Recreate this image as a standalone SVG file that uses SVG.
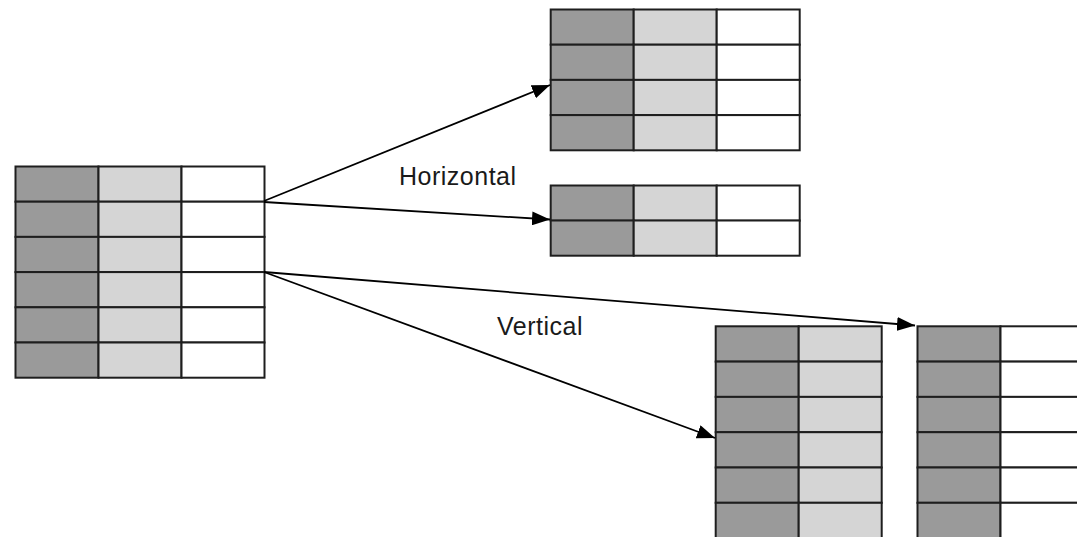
<svg xmlns="http://www.w3.org/2000/svg" width="1077" height="537" viewBox="0 0 1077 537">
<defs>
<style>
.d{fill:#9a9a9a;stroke:#1e1e1e;stroke-width:2}
.l{fill:#d5d5d5;stroke:#1e1e1e;stroke-width:2}
.w{fill:#ffffff;stroke:#1e1e1e;stroke-width:2}
.c{stroke:#000;stroke-width:1.8;fill:none;marker-end:url(#ah)}
.t{font-family:"Liberation Sans",Arial,sans-serif;font-size:25px;letter-spacing:0.5px;fill:#1a1a1a}
</style>
<marker id="ah" markerUnits="userSpaceOnUse" markerWidth="19" markerHeight="14" refX="18" refY="7" orient="auto">
<path d="M0,0 L18,7 L0,14 Z" fill="#000"/>
</marker>
<g id="row3">
<rect class="d" x="0" y="0" width="83" height="35.2"/>
<rect class="l" x="83" y="0" width="83" height="35.2"/>
<rect class="w" x="166" y="0" width="83" height="35.2"/>
</g>
<g id="row2a">
<rect class="d" x="0" y="0" width="83" height="35.3"/>
<rect class="l" x="83" y="0" width="83" height="35.3"/>
</g>
<g id="row2b">
<rect class="d" x="0" y="0" width="83" height="35.3"/>
<rect class="w" x="83" y="0" width="90" height="35.3"/>
</g>
</defs>
<rect width="1077" height="537" fill="#fff"/>
<g id="source">
<use href="#row3" x="15.5" y="166.5"/>
<use href="#row3" x="15.5" y="201.7"/>
<use href="#row3" x="15.5" y="236.9"/>
<use href="#row3" x="15.5" y="272.1"/>
<use href="#row3" x="15.5" y="307.3"/>
<use href="#row3" x="15.5" y="342.5"/>
</g>
<g id="horizontal-top">
<use href="#row3" x="550.7" y="9.5"/>
<use href="#row3" x="550.7" y="44.7"/>
<use href="#row3" x="550.7" y="79.9"/>
<use href="#row3" x="550.7" y="115.1"/>
</g>
<g id="horizontal-bottom">
<use href="#row3" x="550.7" y="185.5"/>
<use href="#row3" x="550.7" y="220.5"/>
</g>
<g id="vertical-left">
<use href="#row2a" x="715.7" y="326.3"/>
<use href="#row2a" x="715.7" y="361.6"/>
<use href="#row2a" x="715.7" y="396.9"/>
<use href="#row2a" x="715.7" y="432.2"/>
<use href="#row2a" x="715.7" y="467.5"/>
<use href="#row2a" x="715.7" y="502.8"/>
</g>
<g id="vertical-right">
<use href="#row2b" x="917.5" y="326.3"/>
<use href="#row2b" x="917.5" y="361.6"/>
<use href="#row2b" x="917.5" y="396.9"/>
<use href="#row2b" x="917.5" y="432.2"/>
<use href="#row2b" x="917.5" y="467.5"/>
<use href="#row2b" x="917.5" y="502.8"/>
</g>
<g id="connectors">
<line class="c" x1="264" y1="201" x2="550" y2="85"/>
<line class="c" x1="264" y1="202" x2="550" y2="219.5"/>
<line class="c" x1="264" y1="272" x2="915" y2="325.5"/>
<line class="c" x1="264" y1="272" x2="715" y2="438"/>
</g>
<g id="labels">
<text class="t" x="399" y="185">Horizontal</text>
<text class="t" x="497" y="335">Vertical</text>
</g>
</svg>
